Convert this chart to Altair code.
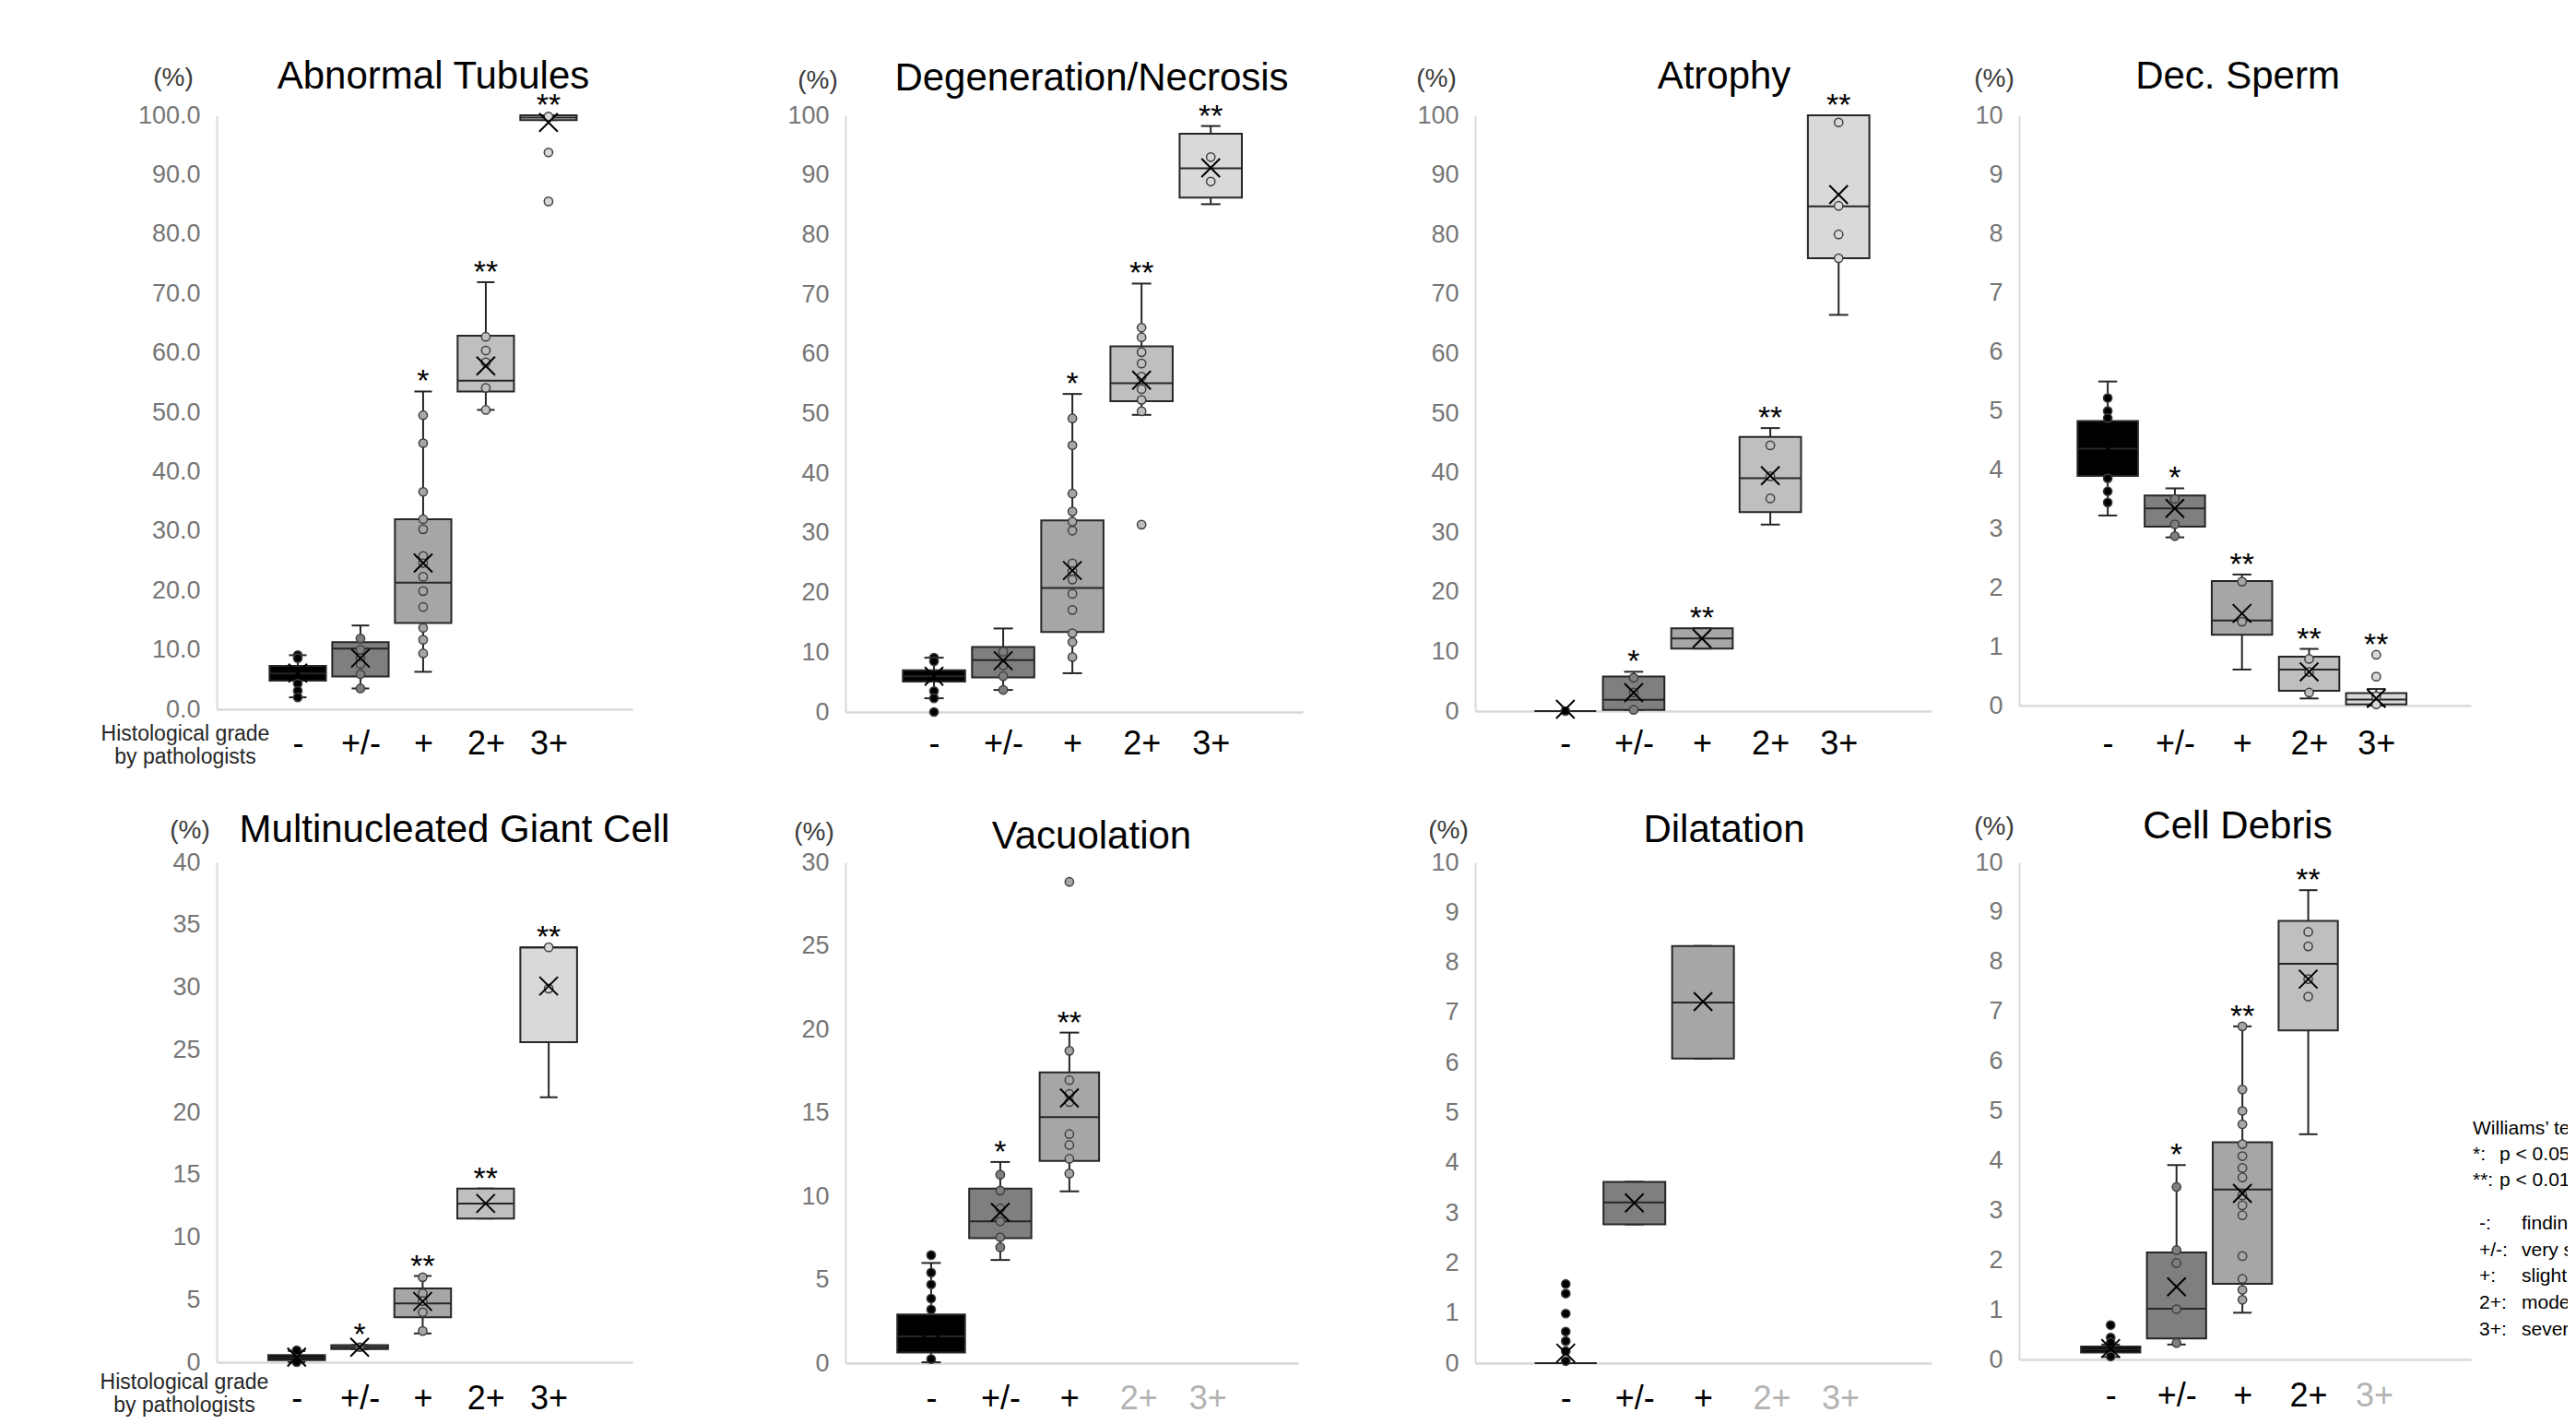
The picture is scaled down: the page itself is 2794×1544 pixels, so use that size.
import altair as alt
import pandas as pd

FONT = "Liberation Sans"
INK = "#262626"
XPATH = "M-1,-1L1,1M-1,1L1,-1"

GRADES = ["-", "+/-", "+", "2+", "3+"]
BOX_FILL = ["#000000", "#7f7f7f", "#a6a6a6", "#bfbfbf", "#d9d9d9"]

# ---------------- data ----------------
# Abnormal Tubules
AT_LO = [2.0, 3.5, 6.3, 50.4, 99.2]
AT_Q1 = [4.8, 5.5, 14.5, 53.5, 99.2]
AT_MED = [6.0, 10.2, 21.3, 55.3, 99.6]
AT_Q3 = [7.3, 11.3, 32.0, 62.9, 100.0]
AT_HI = [9.1, 14.1, 53.5, 71.9, 100.0]
AT_MEAN = [6.1, 8.6, 24.6, 57.8, 98.8]
AT_PTS = [[9.1, 8.6, 4.3, 3.1, 2.0],
          [11.9, 10.0, 8.6, 7.6, 5.9, 3.5],
          [49.5, 44.8, 36.6, 32.0, 30.3, 25.8, 24.6, 22.3, 19.9, 17.2, 13.7, 11.7, 9.4],
          [62.7, 60.4, 58.4, 54.1, 50.4],
          [99.8, 93.75, 85.5]]
AT_STAR = ["", "", "*", "**", "**"]

# Degeneration/Necrosis
DN_LO = [2.3, 3.7, 6.5, 49.8, 85.1]
DN_Q1 = [5.1, 5.8, 13.4, 52.1, 86.2]
DN_MED = [6.0, 8.7, 20.8, 55.1, 91.1]
DN_Q3 = [7.0, 10.9, 32.1, 61.3, 96.9]
DN_HI = [9.1, 14.0, 53.3, 71.8, 98.2]
DN_MEAN = [6.0, 8.6, 23.7, 55.6, 91.2]
DN_PTS = [[9.1, 8.5, 3.5, 2.3, 0.0],
          [10.1, 7.8, 6.0, 3.7],
          [49.2, 44.7, 36.6, 33.6, 31.9, 30.4, 24.9, 23.6, 22.2, 19.8, 17.1, 13.2, 11.7, 9.2],
          [64.4, 62.8, 60.3, 58.4, 56.2, 54.1, 52.3, 50.4, 31.4],
          [93.0, 88.9]]
DN_STAR = ["", "", "*", "**", "**"]

# Atrophy
AR_LO = [0.0, 0.2, 10.5, 31.3, 66.5]
AR_Q1 = [0.0, 0.2, 10.5, 33.4, 76.0]
AR_MED = [0.0, 1.9, 12.2, 39.1, 84.7]
AR_Q3 = [0.0, 5.8, 13.9, 46.0, 100.0]
AR_HI = [0.0, 6.6, 13.9, 47.5, 100.0]
AR_MEAN = [0.3, 3.1, 12.2, 39.5, 86.7]
AR_PTS = [[0.0], [5.6, 3.1, 0.2], [], [44.6, 39.4, 35.7], [98.8, 84.8, 80.0, 76.0]]
AR_STAR = ["", "*", "**", "**", "**"]

# Dec. Sperm
DS_LO = [3.22, 2.85, 0.61, 0.12, 0.0]
DS_Q1 = [3.89, 3.03, 1.20, 0.25, 0.02]
DS_MED = [4.35, 3.34, 1.44, 0.61, 0.10]
DS_Q3 = [4.82, 3.56, 2.11, 0.83, 0.21]
DS_HI = [5.49, 3.68, 2.22, 0.96, 0.28]
DS_MEAN = [4.35, 3.34, 1.56, 0.57, 0.12]
DS_PTS = [[5.21, 4.99, 4.87, 3.85, 3.63, 3.44], [3.50, 3.07, 2.87], [2.10, 1.42],
          [0.79, 0.57, 0.22], [0.86, 0.49, 0.16, 0.02]]
DS_STAR = ["", "*", "**", "**", "**"]

# Multinucleated Giant Cell
MG_LO = [0.0, 1.05, 2.3, 11.5, 21.2]
MG_Q1 = [0.16, 1.05, 3.6, 11.5, 25.6]
MG_MED = [0.35, 1.2, 4.7, 12.7, 33.2]
MG_Q3 = [0.57, 1.37, 5.9, 13.9, 33.2]
MG_HI = [0.9, 1.37, 6.9, 13.9, 33.2]
MG_MEAN = [0.4, 1.2, 4.86, 12.7, 30.1]
MG_PTS = [[0.95, 0.0], [1.2], [6.8, 5.5, 4.9, 4.0, 2.5], [], [33.2, 29.9]]
MG_STAR = ["", "*", "**", "**", "**"]

# Vacuolation
VA_LO = [0.05, 6.18, 10.29]
VA_Q1 = [0.64, 7.49, 12.12]
VA_MED = [1.6, 8.49, 14.74]
VA_Q3 = [2.92, 10.46, 17.42]
VA_HI = [6.0, 12.05, 19.8]
VA_MEAN = [2.0, 9.03, 15.88]
VA_PTS = [[6.47, 5.42, 4.71, 3.87, 3.21, 0.24],
          [11.29, 10.34, 9.27, 8.49, 7.54, 6.94],
          [28.83, 18.71, 16.95, 16.12, 15.64, 13.72, 13.07, 12.24, 11.36]]
VA_STAR = ["", "*", "**"]

# Dilatation
DL_LO = [0.0, 2.77, 6.08]
DL_Q1 = [0.0, 2.77, 6.08]
DL_MED = [0.0, 3.21, 7.2]
DL_Q3 = [0.0, 3.62, 8.33]
DL_HI = [0.0, 3.62, 8.33]
DL_MEAN = [0.2, 3.2, 7.22]
DL_PTS = [[1.58, 1.39, 0.99, 0.63, 0.44, 0.24, 0.04], [], []]
DL_STAR = ["", "", ""]

# Cell Debris
CD_LO = [0.05, 0.30, 0.94, 4.53]
CD_Q1 = [0.14, 0.42, 1.52, 6.62]
CD_MED = [0.2, 1.02, 3.42, 7.96]
CD_Q3 = [0.26, 2.15, 4.37, 8.82]
CD_HI = [0.3, 3.91, 6.70, 9.44]
CD_MEAN = [0.22, 1.46, 3.34, 7.65]
CD_PTS = [[0.69, 0.44, 0.34, 0.06],
          [3.47, 2.20, 1.94, 1.01, 0.33],
          [6.70, 5.43, 5.0, 4.73, 4.33, 4.09, 3.85, 3.66, 3.30, 3.10, 2.90, 2.08, 1.62, 1.40, 1.20],
          [8.60, 8.31, 7.65, 7.30]]
CD_STAR = ["", "*", "**", "**"]

LEGEND_A1 = ["Williams\u2019 test", "*:", "**:"]
LEGEND_A2 = ["p < 0.05", "p < 0.01"]
LEGEND_B1 = ["-:", "+/-:", "+:", "2+:", "3+:"]
LEGEND_B2 = ["findings within normal limits", "very slight", "slight", "moderate", "severe"]
GRADE_TITLE = ["Histological  grade", "by pathologists"]


def make_panel(title, lo, q1, med, q3, hi, mean, pts, stars, ymax, ystep, yfmt, lay):
    star_pts = lay.get("star_pts", [])
    half = lay.get("half", [0.45] * 5)
    rows = []
    for i in range(len(q1)):
        top = hi[i]
        if i in star_pts and pts[i]:
            top = max(top, max(pts[i]))
        rows.append(dict(i=i, lo=lo[i], q1=q1[i], med=med[i], q3=q3[i], hi=hi[i],
                         mean=mean[i], star=stars[i], top=top, half=half[i], fill=BOX_FILL[i]))
    bdf = pd.DataFrame(rows)
    pdf = pd.DataFrame([dict(i=i, v=v, fill=BOX_FILL[i]) for i, vals in enumerate(pts) for v in vals],
                       columns=["i", "v", "fill"])
    W, H = lay["w"], lay["h"]
    xs = alt.Scale(domain=[-lay["pl"], 4 + lay["pr"]], nice=False, zero=False)
    ys = alt.Scale(domain=[0, ymax], nice=False, zero=True)
    grey_from = lay.get("grey_from", 9)
    xaxis = alt.Axis(values=[0, 1, 2, 3, 4],
                     labelExpr="['-','+/-','+','2+','3+'][datum.value]",
                     title=None, grid=False, ticks=False, tickSize=0,
                     domainColor="#d9d9d9", domainWidth=2.5,
                     labelFont=FONT, labelFontSize=36,
                     labelColor={"condition": {"test": f"datum.value >= {grey_from}", "value": "#b3b3b3"},
                                 "value": "#000000"},
                     labelPadding=lay["xlp"], labelBaseline="alphabetic",
                     labelFlush=False, labelOverlap=False)
    yaxis = alt.Axis(values=list(range(0, ymax + 1, ystep)), format=yfmt, title=None,
                     grid=False, ticks=False, tickSize=0,
                     domainColor="#d9d9d9", domainWidth=2,
                     labelFont=FONT, labelFontSize=27, labelColor="#767676",
                     labelPadding=18, labelFlush=False, labelOverlap=False)

    def X(f):
        return alt.X(f, type="quantitative", scale=xs, axis=xaxis)

    def Y(f):
        return alt.Y(f, type="quantitative", scale=ys, axis=yaxis)

    base = alt.Chart(bdf)
    whisk = base.mark_rule(color=INK, strokeWidth=2).encode(x=X("i"), y=Y("lo"), y2="hi")
    capb = base.transform_calculate(cl="datum.i - 0.14", cr="datum.i + 0.14")
    cap_hi = capb.mark_rule(color=INK, strokeWidth=2).encode(x=X("cl"), x2="cr", y=Y("hi"))
    cap_lo = capb.mark_rule(color=INK, strokeWidth=2).encode(x=X("cl"), x2="cr", y=Y("lo"))
    boxb = base.transform_calculate(bl="datum.i - datum.half", br="datum.i + datum.half")
    box = boxb.mark_bar(stroke=INK, strokeWidth=2).encode(
        x=X("bl"), x2="br", y=Y("q1"), y2="q3", fill=alt.Fill("fill:N", scale=None))
    medl = boxb.mark_rule(color=INK, strokeWidth=2).encode(x=X("bl"), x2="br", y=Y("med"))
    dots = alt.Chart(pdf).mark_point(shape="circle", filled=True, size=85, stroke="#404040",
                                     strokeWidth=1.5, opacity=1).encode(
        x=X("i"), y=Y("v"), fill=alt.Fill("fill:N", scale=None))
    means = base.mark_point(shape=XPATH, filled=False, size=400, color="#000000",
                            strokeWidth=2, opacity=1).encode(x=X("i"), y=Y("mean"))
    star = base.mark_text(font=FONT, fontSize=34, baseline="alphabetic", align="center",
                          color="#000000").encode(x=X("i"), y=Y("top"), text="star:N")
    one = alt.Chart(pd.DataFrame({"t": [title]}))
    ttl = one.mark_text(font=FONT, fontSize=42, baseline="alphabetic", align="center",
                        color="#000000").encode(x=alt.value(lay["tx"]), y=alt.value(lay["ty"]), text="t:N")
    pct = one.mark_text(font=FONT, fontSize=28, baseline="alphabetic", align="center",
                        color="#3a3a3a", text="(%)").encode(x=alt.value(lay["px"]), y=alt.value(lay["py"]))
    layers = [whisk, cap_hi, cap_lo, box, medl, dots, means, star, ttl, pct]
    if "grade" in lay:
        gx, gy = lay["grade"]
        layers.append(one.mark_text(font=FONT, fontSize=23, baseline="alphabetic", align="center",
                                    lineHeight=25, color=INK, text=GRADE_TITLE).encode(
            x=alt.value(gx), y=alt.value(H + gy)))
    return alt.layer(*layers).properties(width=W, height=H)


def spacer(w):
    return alt.Chart(pd.DataFrame({"s": [0]})).mark_point(opacity=0, size=1).encode(
        x=alt.value(0), y=alt.value(0)).properties(width=w, height=1)


L1 = dict(w=451, h=644, pl=1.294, pr=1.34, xlp=48, tx=235, ty=-29, px=-47, py=-32, grade=(-34, 34))
L2 = dict(w=496, h=647, pl=1.28, pr=1.33, xlp=45, tx=267, ty=-27, px=-30, py=-29)
L3 = dict(w=495, h=646, pl=1.32, pr=1.36, xlp=46, tx=270, ty=-29, px=-42, py=-31)
L4 = dict(w=490, h=640, pl=1.32, pr=1.41, xlp=52, tx=237, ty=-29, px=-27, py=-31, star_pts=[4])
L5 = dict(w=451, h=542, pl=1.27, pr=1.33, xlp=50, tx=258, ty=-22, px=-29, py=-26, grade=(-35, 29))
L6 = dict(w=491, h=543, pl=1.24, pr=1.31, xlp=49, tx=267, ty=-15, px=-34, py=-24, grey_from=3,
          half=[0.49, 0.45, 0.43])
L7 = dict(w=495, h=543, pl=1.32, pr=1.33, xlp=49, tx=270, ty=-22, px=-29, py=-26, grey_from=3)
L8 = dict(w=490, h=539, pl=1.39, pr=1.47, xlp=50, tx=237, ty=-26, px=-27, py=-30, grey_from=4)

p1 = make_panel("Abnormal Tubules", AT_LO, AT_Q1, AT_MED, AT_Q3, AT_HI, AT_MEAN, AT_PTS, AT_STAR, 100, 10, ".1f", L1)
p2 = make_panel("Degeneration/Necrosis", DN_LO, DN_Q1, DN_MED, DN_Q3, DN_HI, DN_MEAN, DN_PTS, DN_STAR, 100, 10, "d", L2)
p3 = make_panel("Atrophy", AR_LO, AR_Q1, AR_MED, AR_Q3, AR_HI, AR_MEAN, AR_PTS, AR_STAR, 100, 10, "d", L3)
p4 = make_panel("Dec. Sperm", DS_LO, DS_Q1, DS_MED, DS_Q3, DS_HI, DS_MEAN, DS_PTS, DS_STAR, 10, 1, "d", L4)
p5 = make_panel("Multinucleated Giant Cell", MG_LO, MG_Q1, MG_MED, MG_Q3, MG_HI, MG_MEAN, MG_PTS, MG_STAR, 40, 5, "d", L5)
p6 = make_panel("Vacuolation", VA_LO, VA_Q1, VA_MED, VA_Q3, VA_HI, VA_MEAN, VA_PTS, VA_STAR, 30, 5, "d", L6)
p7 = make_panel("Dilatation", DL_LO, DL_Q1, DL_MED, DL_Q3, DL_HI, DL_MEAN, DL_PTS, DL_STAR, 10, 1, "d", L7)
p8 = make_panel("Cell Debris", CD_LO, CD_Q1, CD_MED, CD_Q3, CD_HI, CD_MEAN, CD_PTS, CD_STAR, 10, 1, "d", L8)

lone = alt.Chart(pd.DataFrame({"s": [0]}))
LT = dict(font=FONT, fontSize=21, baseline="alphabetic", align="left", color="#000000", clip=True)
legend = alt.layer(
    lone.mark_text(text=LEGEND_A1, lineHeight=28, **LT).encode(x=alt.value(2), y=alt.value(295)),
    lone.mark_text(text=LEGEND_A2, lineHeight=28, **LT).encode(x=alt.value(31), y=alt.value(323)),
    lone.mark_text(text=LEGEND_B1, lineHeight=28.7, **LT).encode(x=alt.value(9), y=alt.value(398)),
    lone.mark_text(text=LEGEND_B2, lineHeight=28.7, **LT).encode(x=alt.value(55), y=alt.value(398)),
).properties(width=105, height=543)

# columns: panel | gap | panel | gap | panel | gap | panel | legend
chart = alt.concat(
    p1, spacer(231), p2, spacer(187), p3, spacer(95), p4, spacer(100),
    p5, spacer(231), p6, spacer(187), p7, spacer(95), p8, legend,
    columns=8,
    spacing={"row": 163, "column": 0},
    bounds="flush",
    align="each",
).properties(
    padding={"left": 97, "top": 54, "right": 0, "bottom": 0}
).configure(
    font=FONT, background="white", view=alt.ViewConfig(stroke="transparent", strokeWidth=0)
)

chart.save("out.html", embed_options={"renderer": "svg", "actions": False})
